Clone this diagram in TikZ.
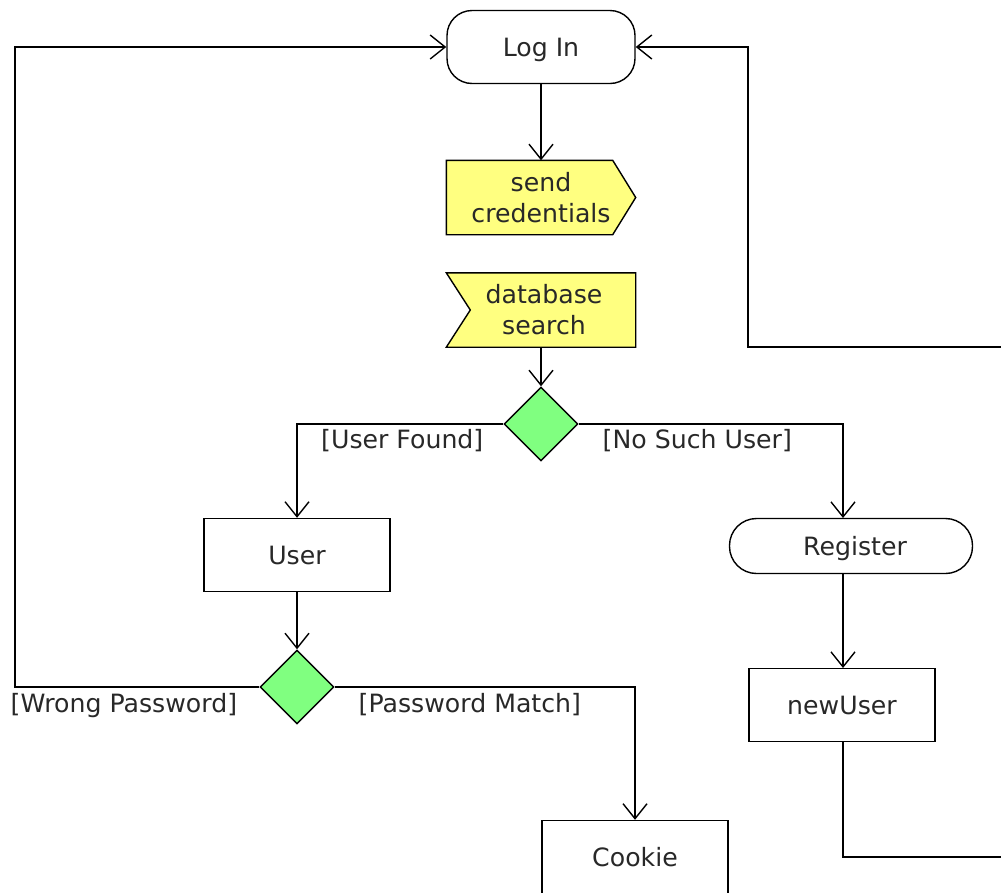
\documentclass[tikz,border=0pt]{standalone}
\usepackage{fontspec}
\setmainfont{DejaVu Sans}
\usetikzlibrary{arrows.meta,backgrounds,shapes.geometric}
\definecolor{sigfill}{RGB}{255,255,128}
\definecolor{decfill}{RGB}{128,255,128}
\definecolor{ink}{RGB}{40,40,40}
\begin{document}
\begin{tikzpicture}[x=1pt,y=-1pt,
  font=\fontsize{25.2}{31}\selectfont,
  line width=1.4pt,
  every node/.style={text=ink},
  flow/.style={draw=black,line width=1.4pt,-{Straight Barb[length=15pt,width=24pt,line width=1.4pt]}},
  plain/.style={draw=black,line width=1.4pt},
  oneline/.style={text height=22pt,text depth=4pt},
  action/.style={draw=black,rounded corners=25pt,minimum width=188pt,minimum height=73pt,inner sep=0pt,oneline},
  pill/.style={draw=black,rounded corners=27pt,minimum width=243pt,minimum height=55pt,inner sep=0pt,oneline},
  objbox/.style={draw=black,minimum width=186pt,minimum height=73pt,inner sep=0pt,oneline},
  sigbox/.style={minimum width=188pt,minimum height=73pt,inner sep=0pt,align=center},
  decision/.style={draw=black,fill=decfill,diamond,minimum width=74pt,minimum height=74pt,inner sep=0pt,shape aspect=1},
  guard/.style={inner sep=0pt,text height=19pt,text depth=6pt}
]
\useasboundingbox (0,0) rectangle (1001,892);

% activities and objects
\node[action] (login) at (541,47) {Log In};
\node[sigbox] (send) at (541,197.5) {send\\credentials};
\node[sigbox] (dbsearch) at (541,310) {\hspace*{6pt}database\\\hspace*{6pt}search};
\node[objbox] (user) at (297,555) {User};
\node[pill] (register) at (851,546) {\hspace{8pt}Register};
\node[objbox] (newuser) at (842,705) {newUser};
\node[objbox] (cookie) at (635,857) {Cookie};

% decisions
\node[decision] (dec1) at (541,424) {};
\node[decision] (dec2) at (297,687) {};

% send signal and accept event outlines
\begin{scope}[on background layer]
  \filldraw[fill=sigfill,draw=black,line width=1.4pt]
    (send.north west) -- ([xshift=-23pt]send.north east) -- (send.east)
    -- ([xshift=-23pt]send.south east) -- (send.south west) -- cycle;
  \filldraw[fill=sigfill,draw=black,line width=1.4pt]
    (dbsearch.north west) -- (dbsearch.north east) -- (dbsearch.south east)
    -- (dbsearch.south west) -- ([xshift=24pt]dbsearch.west) -- cycle;
\end{scope}

% branch points on the right and off-page continuations
\coordinate (regin) at (843,518);
\coordinate (regout) at (843,573);
\coordinate (nuin) at (843,668);
\coordinate (nuout) at (843,742);
\coordinate (back) at (1001,347);
\coordinate (out) at (1001,857);

% control flow
\draw[flow] (login.south) -- (send.north);
\draw[flow] (dbsearch.south) -- (dec1.north);
\draw[flow] (dec1.west) -| (user.north);
\draw[flow] (dec1.east) -| (regin);
\draw[flow] (user.south) -- (dec2.north);
\draw[flow] (dec2.west) -- (15,687) |- (login.west);
\draw[flow] (dec2.east) -| (cookie.north);
\draw[flow] (regout) -- (nuin);
\draw[plain] (nuout) |- (out);
\draw[flow] (back) -- (748,347) |- (login.east);

% guards
\node[guard,anchor=east] (gfound) at (484,442) {[User Found]};
\node[guard,anchor=west] (gnouser) at (602,442) {[No Such User]};
\node[guard,anchor=west] (gwrong) at (10,706) {[Wrong Password]};
\node[guard,anchor=west] (gmatch) at (358,706) {[Password Match]};
\end{tikzpicture}
\end{document}
